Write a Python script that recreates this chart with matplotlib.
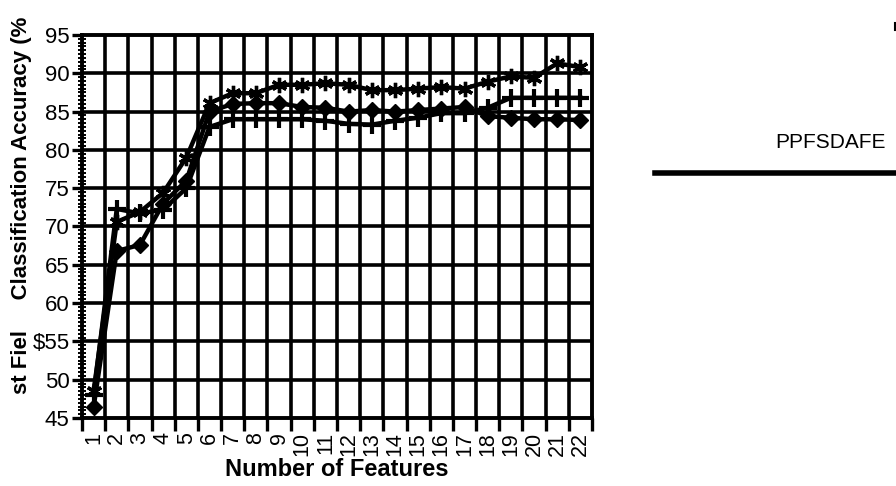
import matplotlib
matplotlib.use("Agg")
import matplotlib.pyplot as plt
from matplotlib.lines import Line2D
import numpy as np

plt.rcParams['font.family'] = ['Liberation Sans', 'DejaVu Sans']

# Number of features used
n_features = list(range(1, 23))
x_labels = [str(n) for n in n_features]

# Test field classification accuracy (%) for the three feature-selection runs
acc_diamond = [46.4, 66.8, 67.6, 73.0, 76.0, 85.0, 86.0, 86.1, 86.1, 85.6, 85.5,
               85.0, 85.2, 85.0, 85.2, 85.4, 85.6, 84.4, 84.2, 84.0, 84.0, 83.9]
acc_plus = [48.0, 72.3, 71.7, 72.2, 75.0, 83.0, 84.0, 84.0, 84.0, 84.0, 83.8,
            83.4, 83.3, 83.8, 84.2, 84.8, 84.8, 85.5, 86.8, 86.8, 86.8, 86.8]
acc_star = [48.5, 70.6, 71.9, 74.4, 79.0, 86.1, 87.4, 87.4, 88.5, 88.5, 88.7,
            88.5, 87.8, 87.8, 88.0, 88.2, 88.0, 88.9, 89.6, 89.4, 91.3, 90.8]

y_ticks = [45, 50, 55, 60, 65, 70, 75, 80, 85, 90, 95]
y_tick_labels = ['45', '50', '$55', '60', '65', '70', '75', '80', '85', '90', '95']
y_title = 'st Fiel     Classification Accuracy (%'
legend_label = 'PPFSDAFE'

W, H = 896, 486
fig = plt.figure(figsize=(W / 100, H / 100), dpi=100)
ax = fig.add_axes([82 / W, 1 - 418 / H, (592 - 82) / W, (418 - 35) / H])

ax.set_xlim(0.5, 22.5)
ax.set_ylim(45, 95)

# heavy black grid: horizontal every 5 %, vertical between categories
for yv in y_ticks[1:-1]:
    ax.axhline(yv, color='black', lw=2.6, zorder=1)
for xb in np.arange(1.5, 22.5, 1.0):
    ax.axvline(xb, color='black', lw=2.6, zorder=1)

line_kw = dict(color='black', lw=3.2, zorder=3)
ax.plot(n_features, acc_diamond, marker='D', ms=8.5, mfc='black', mec='black', **line_kw)
ax.plot(n_features, acc_plus, marker='+', ms=13, mew=3.0, mec='black', **line_kw)
ax.plot(n_features, acc_star, marker=(6, 2, 0), ms=11, mew=2.4, mec='black', **line_kw)

for s in ax.spines.values():
    s.set_linewidth(2.8)
    s.set_color('black')

# y axis: labelled majors, dense minor ticks
ax.set_yticks(y_ticks)
ax.set_yticklabels(y_tick_labels, fontsize=16)
ax.set_yticks(np.arange(45, 95.01, 0.5), minor=True)
ax.tick_params(axis='y', which='major', direction='out', length=7, width=2.4, pad=2)
ax.tick_params(axis='y', which='minor', direction='inout', length=6, width=1.4)

# x axis: ticks on category boundaries, labels at category centres
ax.set_xticks(np.arange(0.5, 23, 1.0))
ax.set_xticklabels([])
ax.set_xticks(n_features, minor=True)
ax.set_xticklabels(x_labels, minor=True, rotation=90, fontsize=15.5, va='top')
ax.tick_params(axis='x', which='major', direction='out', length=9, width=2.4)
ax.tick_params(axis='x', which='minor', length=0, pad=10)

fig.text(337 / W, 1 - 469 / H, 'Number of Features', ha='center', va='center',
         fontsize=17, fontweight='bold')
fig.text(22 / W, 1 - 394 / H, y_title,
         rotation=90, ha='center', va='bottom', fontsize=16, fontweight='bold')

# legend entry, partly running off the right edge
fig.text(775 / W, 1 - 142 / H, legend_label, ha='left', va='center', fontsize=15)
fig.add_artist(Line2D([655 / W, 1.0], [1 - 173 / H, 1 - 173 / H],
                      transform=fig.transFigure, color='black', lw=4.0))
fig.add_artist(Line2D([894.5 / W, 894.5 / W], [1 - 23 / H, 1 - 30 / H],
                      transform=fig.transFigure, color='black', lw=1.5))

fig.savefig('out.png', dpi=100)
